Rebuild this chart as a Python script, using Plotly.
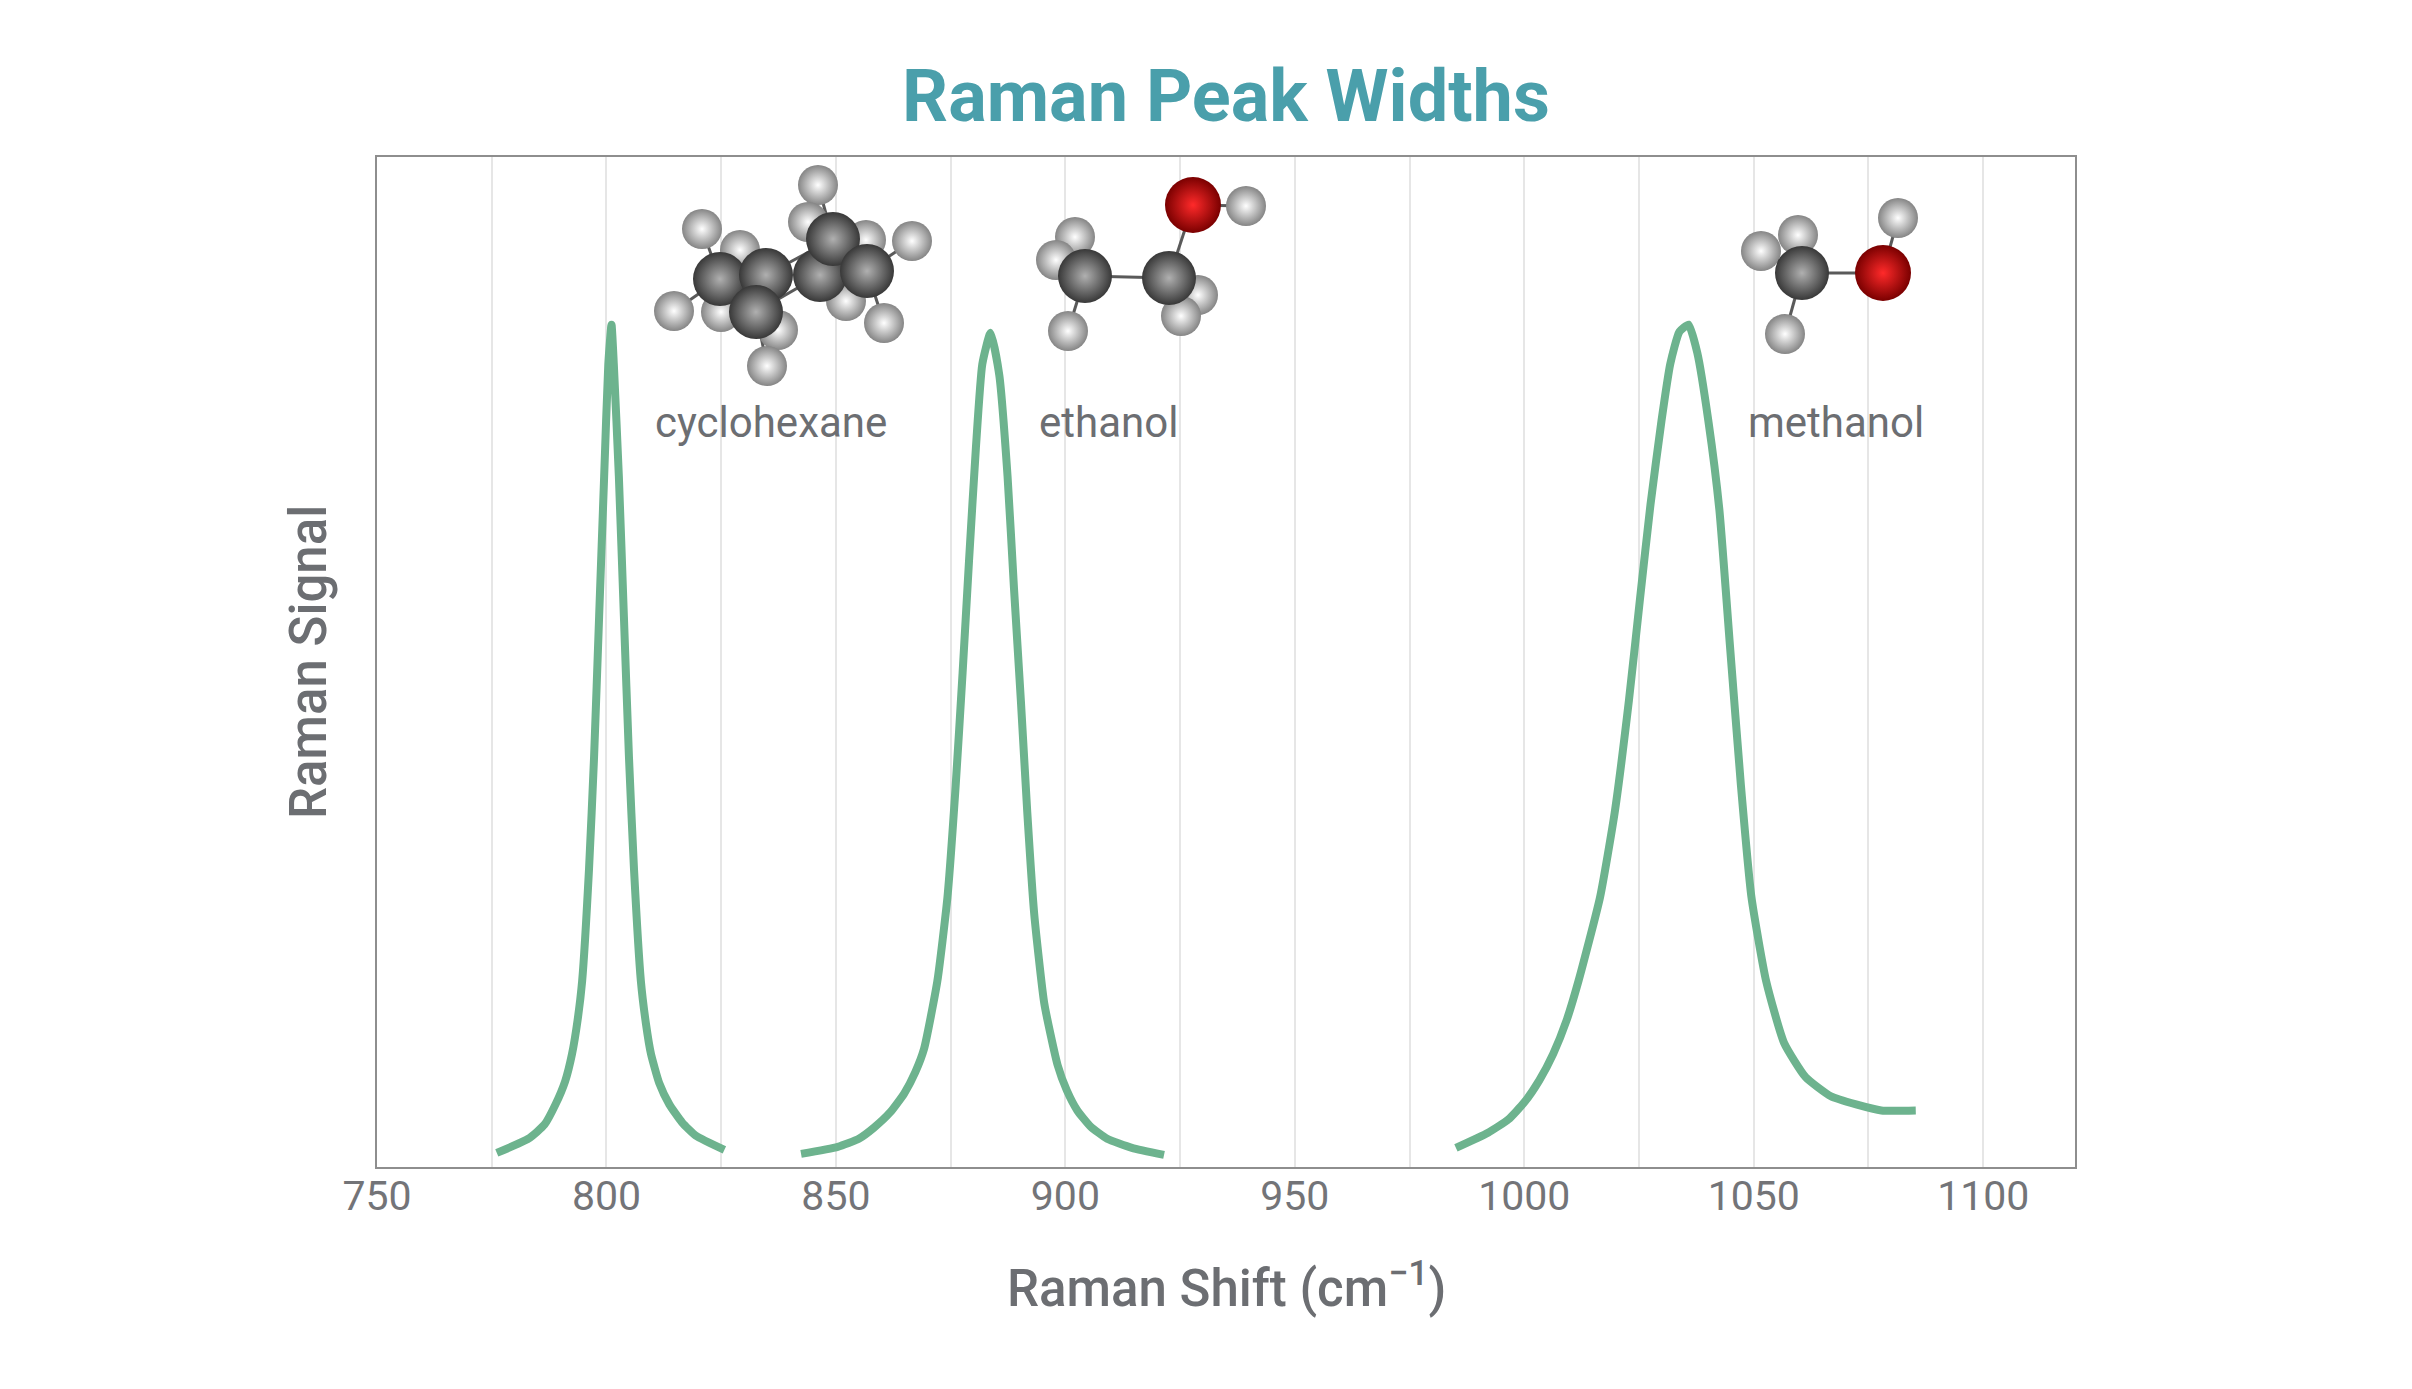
import plotly.graph_objects as go

# ── peak traces (x: Raman shift in cm^-1, y: signal, arb. units) ──
CYCLO_X = [776.1, 783.0, 786.5, 788.9, 791.0, 792.5, 793.7, 794.7, 796.2, 797.3, 798.4, 799.5,
           800.4, 801.1, 801.6, 802.7, 803.8, 804.9, 806.0, 807.5, 808.6, 809.7, 811.5,
           813.7, 816.5, 819.5, 825.7]
CYCLO_Y = [0.014, 0.028, 0.042, 0.062, 0.085, 0.112, 0.145, 0.184, 0.295, 0.406, 0.545, 0.684,
           0.795, 0.834, 0.795, 0.684, 0.545, 0.406, 0.295, 0.184, 0.142, 0.112, 0.083,
           0.062, 0.044, 0.031, 0.017]

ETHANOL_X = [842.4, 850.4, 855.0, 858.3, 861.8, 864.9, 867.3, 869.2, 872.1, 874.3, 876.1, 877.6,
             879.0, 880.5, 881.9, 883.7, 885.6, 887.4, 888.8, 890.3, 891.7, 893.2, 895.4, 898.3,
             900.3, 902.6, 905.5, 909.1, 914.5, 921.5]
ETHANOL_Y = [0.013, 0.020, 0.028, 0.039, 0.054, 0.073, 0.094, 0.117, 0.184, 0.267, 0.378, 0.489,
             0.600, 0.712, 0.795, 0.826, 0.784, 0.684, 0.573, 0.462, 0.351, 0.251, 0.162, 0.101,
             0.076, 0.056, 0.040, 0.028, 0.019, 0.012]

METHANOL_X = [985.1, 992.1, 996.5, 1000.0, 1003.3, 1006.3, 1009.2, 1011.8, 1016.5, 1019.7, 1022.8,
              1025.2, 1027.5, 1029.9, 1031.8, 1033.8, 1035.8, 1037.7, 1040.1, 1042.5, 1044.8,
              1047.2, 1049.5, 1052.7, 1056.6, 1061.3, 1066.8, 1072.3, 1077.8, 1085.3]
METHANOL_Y = [0.019, 0.034, 0.047, 0.064, 0.086, 0.112, 0.145, 0.184, 0.267, 0.351, 0.462,
              0.562, 0.656, 0.739, 0.795, 0.827, 0.834, 0.806, 0.739, 0.651, 0.517,
              0.378, 0.267, 0.184, 0.123, 0.089, 0.070, 0.062, 0.056, 0.056]

X_TICKS = [750, 800, 850, 900, 950, 1000, 1050, 1100]

# ball-and-stick sketches, positions in px inside the plot box (origin top-left)
CYCLO_ATOMS = [("C", 343, 122), ("C", 389, 118), ("C", 379, 155), ("C", 443, 118),
               ("C", 456, 82), ("C", 490, 114),
               ("H", 325, 72), ("H", 363, 93), ("H", 297, 154), ("H", 344, 155),
               ("H", 401, 173), ("H", 390, 209), ("H", 441, 28), ("H", 431, 65),
               ("H", 489, 83), ("H", 535, 84), ("H", 469, 144), ("H", 507, 166)]
CYCLO_BONDS = [(0, 1), (0, 2), (1, 4), (2, 3), (3, 5), (4, 5),
               (0, 6), (0, 8), (1, 7), (1, 9), (2, 10), (2, 11), (4, 12), (4, 13),
               (3, 16), (3, 14), (5, 15), (5, 17)]

ETHANOL_ATOMS = [("C", 708, 119), ("C", 792, 121), ("O", 816, 48), ("H", 869, 49),
                 ("H", 698, 80), ("H", 679, 103), ("H", 691, 174), ("H", 821, 138), ("H", 804, 159)]
ETHANOL_BONDS = [(0, 1), (1, 2), (2, 3), (0, 4), (0, 5), (0, 6), (1, 7), (1, 8)]

METHANOL_ATOMS = [("C", 1425, 116), ("O", 1506, 116), ("H", 1521, 61),
                  ("H", 1421, 78), ("H", 1384, 94), ("H", 1408, 177)]
METHANOL_BONDS = [(0, 1), (1, 2), (0, 3), (0, 4), (0, 5)]

LABELS = ["cyclohexane", "ethanol", "methanol"]
LABEL_X = [276, 660, 1369]
LABEL_Y = 265

GREEN = "#6db38e"
TEAL = "#4a9fab"
GREY_TXT = "#6c6e72"
PLOT_W, PLOT_H = 1698, 1010

ATOM_STYLE = {
    "H": dict(size=40, color="#858585", center="#ffffff"),
    "C": dict(size=54, color="#383838", center="#b0b0b0"),
    "O": dict(size=56, color="#7a0000", center="#ff2a2a"),
}

fig = go.Figure()

for xs, ys, name in [(CYCLO_X, CYCLO_Y, "cyclohexane"),
                     (ETHANOL_X, ETHANOL_Y, "ethanol"),
                     (METHANOL_X, METHANOL_Y, "methanol")]:
    fig.add_trace(go.Scatter(x=xs, y=ys, mode="lines", name=name,
                             line=dict(color=GREEN, width=8, shape="spline", smoothing=0.5),
                             showlegend=False))

# molecules: sticks first, then balls (H behind heavier atoms)
for atoms, bonds in [(CYCLO_ATOMS, CYCLO_BONDS), (ETHANOL_ATOMS, ETHANOL_BONDS),
                     (METHANOL_ATOMS, METHANOL_BONDS)]:
    bx, by = [], []
    for a, b in bonds:
        bx += [atoms[a][1], atoms[b][1], None]
        by += [atoms[a][2], atoms[b][2], None]
    fig.add_trace(go.Scatter(x=bx, y=by, mode="lines", xaxis="x2", yaxis="y2",
                             line=dict(color="#5a5a5a", width=3),
                             hoverinfo="skip", showlegend=False))
    for el in ["H", "C", "O"]:
        pts = [p for p in atoms if p[0] == el]
        if not pts:
            continue
        st = ATOM_STYLE[el]
        fig.add_trace(go.Scatter(
            x=[p[1] for p in pts], y=[p[2] for p in pts], mode="markers",
            xaxis="x2", yaxis="y2", hoverinfo="skip", showlegend=False,
            marker=dict(size=st["size"], color=st["color"], line=dict(width=0),
                        gradient=dict(type="radial", color=st["center"]))))

annotations = []
for lab, lx in zip(LABELS, LABEL_X):
    annotations.append(dict(text=lab, x=lx, y=LABEL_Y, xref="x2", yref="y2",
                            xanchor="left", yanchor="middle", showarrow=False,
                            font=dict(family="Roboto", size=42, color=GREY_TXT)))

annotations.append(dict(text="Raman Shift (cm<sup>−1</sup>)", x=0.5, y=0, xref="paper", yref="paper",
                        xanchor="center", yanchor="middle", yshift=-118, showarrow=False,
                        font=dict(family="Roboto", size=51, color=GREY_TXT, weight=500)))
annotations.append(dict(text="Raman Signal", x=0, y=0.5, xref="paper", yref="paper",
                        xanchor="center", yanchor="middle", xshift=-69, textangle=-90,
                        showarrow=False,
                        font=dict(family="Roboto", size=51, color=GREY_TXT, weight=500)))

fig.update_layout(
    width=2412, height=1389,
    margin=dict(l=369, r=345, t=149, b=230),
    paper_bgcolor="white", plot_bgcolor="white",
    title=dict(text="Raman Peak Widths", x=0.5, xref="paper", xanchor="center",
               y=0.937, yref="container", yanchor="middle",
               font=dict(family="Roboto", size=72, color=TEAL, weight="bold")),
    xaxis=dict(range=[750, 1120], tickvals=X_TICKS, ticks="", showgrid=True,
               gridcolor="#e6e6e6", gridwidth=2,
               minor=dict(dtick=25, tick0=750, showgrid=True, gridcolor="#e6e6e6", gridwidth=2),
               showline=True, linecolor="#8e8e8e", linewidth=2, mirror=True, zeroline=False,
               ticklabelstandoff=-8,
               tickfont=dict(family="Roboto", size=41, color="#737478")),
    yaxis=dict(range=[0, 1], showticklabels=False, ticks="", showgrid=False, zeroline=False,
               showline=True, linecolor="#8e8e8e", linewidth=2, mirror=True),
    xaxis2=dict(range=[0, PLOT_W], overlaying="x", visible=False, anchor="y2"),
    yaxis2=dict(range=[PLOT_H, 0], overlaying="y", visible=False, anchor="x2"),
    annotations=annotations,
)

fig.write_html("out.html")
